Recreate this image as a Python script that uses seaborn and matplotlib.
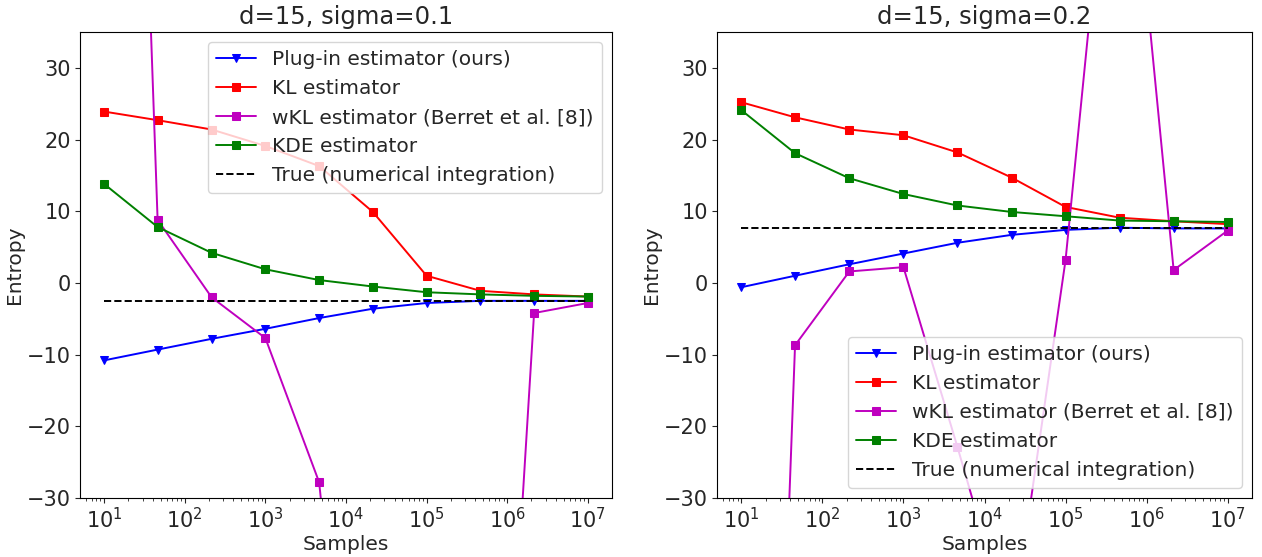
import matplotlib
matplotlib.use("Agg")
import matplotlib.pyplot as plt
import seaborn as sns
import pandas as pd

# sample sizes (x axis)
samples = [10, 46, 215, 1000, 4642, 21544, 100000, 464159, 2154435, 10000000]

# d=15, sigma=0.1
plugin_01 = [-10.8, -9.3, -7.8, -6.4, -4.9, -3.6, -2.8, -2.5, -2.5, -2.5]
kl_01 = [23.9, 22.7, 21.4, 19.1, 16.3, 9.9, 1.0, -1.1, -1.6, -1.9]
wkl_01 = [220.0, 8.8, -2.0, -7.7, -27.8, -100.0, -130.0, -126.0, -4.2, -2.8]
kde_01 = [13.8, 7.8, 4.2, 1.9, 0.4, -0.5, -1.3, -1.6, -1.8, -1.9]
true_01 = [-2.5, -2.5, -2.5, -2.5, -2.5, -2.5, -2.5, -2.5, -2.5, -2.5]

# d=15, sigma=0.2
plugin_02 = [-0.6, 1.0, 2.6, 4.1, 5.6, 6.7, 7.4, 7.7, 7.6, 7.6]
kl_02 = [25.2, 23.1, 21.4, 20.6, 18.2, 14.7, 10.6, 9.1, 8.6, 8.2]
wkl_02 = [-210.0, -8.7, 1.6, 2.2, -22.9, -49.0, 3.2, 79.0, 1.8, 7.3]
kde_02 = [24.1, 18.1, 14.6, 12.4, 10.8, 9.9, 9.3, 8.7, 8.6, 8.5]
true_02 = [7.7, 7.7, 7.7, 7.7, 7.7, 7.7, 7.7, 7.7, 7.7, 7.7]

titles = ["d=15, sigma=0.1", "d=15, sigma=0.2"]
legend_locs = ["upper right", "lower right"]

sns.set_style("ticks")
plt.rcParams["font.family"] = ["DejaVu Sans"]

fig = plt.figure(figsize=(12.62, 5.57), dpi=100)
ax1 = fig.add_axes([80 / 1262, 59 / 557, 532 / 1262, 466 / 557])
ax2 = fig.add_axes([717 / 1262, 59 / 557, 535 / 1262, 466 / 557])

panels = [
    (ax1, plugin_01, kl_01, wkl_01, kde_01, true_01),
    (ax2, plugin_02, kl_02, wkl_02, kde_02, true_02),
]

for i, (ax, plugin, kl, wkl, kde, true) in enumerate(panels):
    df = pd.DataFrame({"Samples": samples, "plugin": plugin, "kl": kl,
                       "wkl": wkl, "kde": kde, "true": true})
    sns.lineplot(data=df, x="Samples", y="plugin", ax=ax, color="b", marker="v",
                 markersize=6, markeredgecolor="b", lw=1.4,
                 label="Plug-in estimator (ours)")
    sns.lineplot(data=df, x="Samples", y="kl", ax=ax, color="r", marker="s",
                 markersize=6, markeredgecolor="r", lw=1.4, label="KL estimator")
    sns.lineplot(data=df, x="Samples", y="wkl", ax=ax, color="m", marker="s",
                 markersize=6, markeredgecolor="m", lw=1.4,
                 label="wKL estimator (Berret et al. [8])")
    sns.lineplot(data=df, x="Samples", y="kde", ax=ax, color="g", marker="s",
                 markersize=6, markeredgecolor="g", lw=1.4, label="KDE estimator")
    sns.lineplot(data=df, x="Samples", y="true", ax=ax, color="k", ls="--",
                 lw=1.4, label="True (numerical integration)")

    ax.set_xscale("log")
    ax.set_ylim(-30, 35)
    ax.set_title(titles[i], fontsize=17.5)
    ax.set_xlabel("Samples", fontsize=14.5, labelpad=2)
    ax.set_ylabel("Entropy", fontsize=14.5, labelpad=2)
    ax.tick_params(axis="both", labelsize=15, pad=3)
    for s in ax.spines.values():
        s.set_color("black")
    ax.legend(loc=legend_locs[i], fontsize=14.5)

fig.savefig("out.png", dpi=100)
